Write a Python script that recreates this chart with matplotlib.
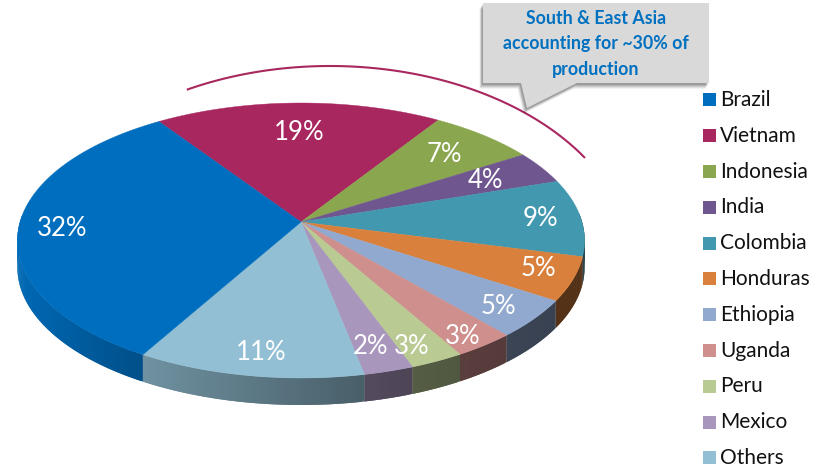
import numpy as np
import matplotlib
matplotlib.use('Agg')
import matplotlib.pyplot as plt
from matplotlib.patches import Polygon, Rectangle

# share of production, clockwise order in the legend
countries = ['Brazil', 'Vietnam', 'Indonesia', 'India', 'Colombia', 'Honduras',
             'Ethiopia', 'Uganda', 'Peru', 'Mexico', 'Others']
shares = [32, 19, 7, 4, 9, 5, 5, 3, 3, 2, 11]
colors = ['#006EBE', '#A9275F', '#8AA64E', '#6F568F', '#4298AF', '#D9813C',
          '#91A8CF', '#CE8F8D', '#B9CB93', '#A896BC', '#92BFD3']
callout_lines = ['South & East Asia', 'accounting for ~30% of', 'production']

# where the percent labels sit, in pixels
label_xy = [(62, 228), (299, 133), (444, 154), (485, 181), (540, 219), (538, 269),
            (498, 307), (463, 336), (412, 346), (371, 346), (261, 352)]

CX, CY = 301, 222
RX, RY = 281, 135
PERSP = 0.1345
DEPTH = 27
START = 125.0  # angle where Vietnam begins
TEXT_FONT = ['Lato', 'DejaVu Sans']

# small angle correction for the tilted view, degrees
warp_at = [-235, -119.8, -80.2, -73, -62.2, -51.4, -33.4, -15.4, 17, 31.4, 56.6, 125]
warp_by = [-0.8, 0, 1.5, 3.3, 2.2, 2.5, 0.6, 1, 1.3, 0.8, 0.5, -0.8]


def rim(t):
    # circle seen in tilted perspective, t in degrees
    t = np.radians(t + np.interp(t, warp_at, warp_by))
    d = 1 + PERSP * np.sin(t)
    return CX + RX * np.cos(t) / d, CY - RY * np.sin(t) / d


def shade(x):
    # side wall gets darker towards the right
    return np.interp(x, [18, 143, 144, 362, 410, 507, 585],
                     [0.95, 0.72, 0.76, 0.50, 0.46, 0.41, 0.38])


fig = plt.figure(figsize=(8.25, 4.69), dpi=100)
ax = fig.add_axes([0, 0, 1, 1])
ax.set_xlim(0, 825)
ax.set_ylim(469, 0)
ax.axis('off')

# slice angles, Vietnam first and Brazil last (going clockwise)
order = list(range(1, len(shares))) + [0]
a0 = START
spans = {}
for i in order:
    a1 = a0 - shares[i] * 3.6
    spans[i] = (a0, a1)
    a0 = a1

# side wall, each strip overlaps the next so no seams show
rgb = [np.array(matplotlib.colors.to_rgb(c)) for c in colors]
for i in order:
    a0, a1 = spans[i]
    ts = np.linspace(a0, a1, int(abs(a1 - a0) * 2) + 2)
    ts = ts[np.sin(np.radians(ts)) < 0.05]
    if len(ts) < 2:
        continue
    xs, ys = rim(ts)
    for k in range(len(ts) - 1):
        j = min(k + 2, len(ts) - 1)
        c = rgb[i] * shade((xs[k] + xs[k + 1]) / 2)
        quad = [(xs[k], ys[k]), (xs[k + 1], ys[k + 1]), (xs[j], ys[j]),
                (xs[j], ys[j] + DEPTH), (xs[k + 1], ys[k + 1] + DEPTH), (xs[k], ys[k] + DEPTH)]
        ax.add_patch(Polygon(quad, closed=True, fc=c, ec='none', zorder=2))

# top face
for i in order:
    a0, a1 = spans[i]
    ts = np.linspace(a0, a1, int(abs(a1 - a0) * 2) + 2)
    xs, ys = rim(ts)
    pts = [(CX, CY)] + list(zip(xs, ys))
    ax.add_patch(Polygon(pts, closed=True, fc=colors[i], ec=colors[i], lw=0.3, zorder=3))

for s, (x, y) in zip(shares, label_xy):
    ax.text(x, y, f'{s}%', color='white', fontsize=18.5, family=TEXT_FONT,
            ha='center', va='center', zorder=5)

# bracket arc over the Asian producers
tt = np.linspace(np.radians(118.2), np.radians(32.7), 120)
ax.plot(330 + 303 * np.cos(tt), 266 - 200 * np.sin(tt), color='#A9275F', lw=1.5,
        solid_capstyle='butt', zorder=4)

# callout with soft shadow
box = [(483, 3), (709, 3), (709, 83), (577, 83), (527, 108), (521, 83), (483, 83)]
for off, alpha in [(6, 0.05), (5, 0.07), (4, 0.09), (3, 0.11), (2, 0.13)]:
    shadow = [(x - off * 0.6, y + off) for x, y in box]
    ax.add_patch(Polygon(shadow, closed=True, fc='black', ec='none', alpha=alpha, zorder=6))
ax.add_patch(Polygon(box, closed=True, fc='#D9D9D9', ec='none', zorder=7))
for line, y in zip(callout_lines, [18, 44, 69]):
    ax.text(596, y, line, color='#0070C0', fontsize=12.8, fontweight='bold',
            family=TEXT_FONT, ha='center', va='center', zorder=8)

# legend
for n, (name, col) in enumerate(zip(countries, colors)):
    y = 100 + n * 35.8
    ax.add_patch(Rectangle((703, y - 6.5), 13, 13, fc=col, ec='none', zorder=3))
    ax.text(720, y, name, color='#111111', fontsize=15, family=TEXT_FONT,
            ha='left', va='center', zorder=3)

fig.savefig('out.png', dpi=100)
